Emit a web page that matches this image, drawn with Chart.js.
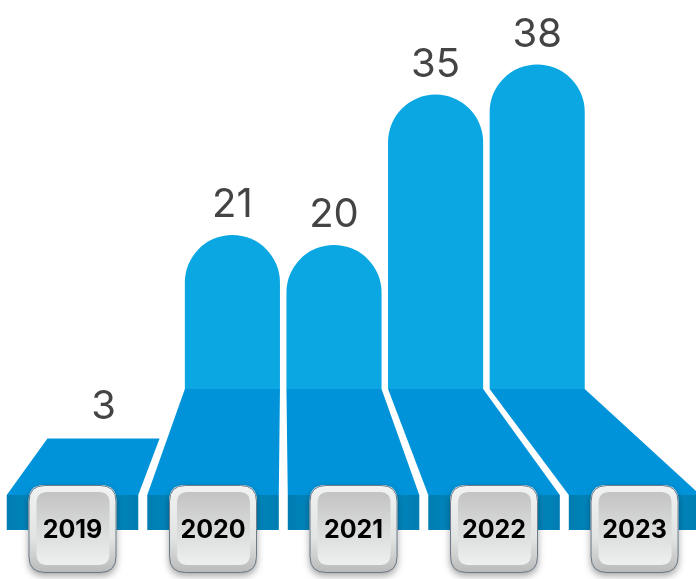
<!DOCTYPE html>
<html><head><meta charset="utf-8">
<script src="https://cdn.jsdelivr.net/npm/chart.js@4.4.1/dist/chart.umd.min.js"></script>
<style>html,body{margin:0;padding:0;background:#fff;overflow:hidden}#wrap{width:696px;height:579px;position:relative}</style>
</head><body><div id="wrap"><canvas id="c"></canvas></div>
<script>
const years = ['2019', '2020', '2021', '2022', '2023'];
const values = [3, 21, 20, 35, 38];
const yMin = 5.64;
const yMax = 41.44;

const BAR_COLOR = '#0ba7e2';
const FLOOR_COLOR = '#0093d9';
const FACE_COLOR = '#0084bb';
const VX = 283, K = 1.383, FLOOR_H = 106, FACE_H = 35, BTN = 88;

function rr(ctx, x, y, w, h, r) {
  ctx.beginPath();
  ctx.moveTo(x + r, y);
  ctx.lineTo(x + w - r, y);
  ctx.quadraticCurveTo(x + w, y, x + w, y + r);
  ctx.lineTo(x + w, y + h - r);
  ctx.quadraticCurveTo(x + w, y + h, x + w - r, y + h);
  ctx.lineTo(x + r, y + h);
  ctx.quadraticCurveTo(x, y + h, x, y + h - r);
  ctx.lineTo(x, y + r);
  ctx.quadraticCurveTo(x, y, x + r, y);
  ctx.closePath();
}

function geom(chart) {
  const area = chart.chartArea;
  const meta = chart.getDatasetMeta(0);
  const y0 = area.bottom, y1 = y0 + FLOOR_H, y2 = y1 + FACE_H;
  const proj = x => VX + (x - VX) * K;
  return meta.data.map((bar, i) => {
    const p = bar.getProps(['x', 'y', 'width'], true);
    const L = p.x - p.width / 2, R = p.x + p.width / 2;
    const bL = proj(L), bR = proj(R);
    const frac = Math.min(values[i] / yMin, 1);
    const yt = y1 - frac * FLOOR_H;
    const t = (yt - y0) / FLOOR_H;
    const tL = L + (bL - L) * t, tR = R + (bR - R) * t;
    return {x: p.x, y: p.y, L, R, bL, bR, yt, tL, tR, y0, y1, y2, below: values[i] < yMin};
  });
}

const infra = {
  id: 'infra',
  beforeDatasetsDraw(chart) {
    const ctx = chart.ctx;
    ctx.save();
    geom(chart).forEach(g => {
      ctx.fillStyle = FLOOR_COLOR;
      ctx.beginPath();
      ctx.moveTo(g.tL, g.yt);
      ctx.lineTo(g.tR, g.yt);
      ctx.lineTo(g.bR, g.y1);
      ctx.lineTo(g.bL, g.y1);
      ctx.closePath();
      ctx.fill();
      const gr = ctx.createLinearGradient(g.bL, 0, g.bR, 0);
      gr.addColorStop(0, '#007db2');
      gr.addColorStop(0.15, FACE_COLOR);
      gr.addColorStop(0.85, FACE_COLOR);
      gr.addColorStop(1, '#007db2');
      ctx.fillStyle = gr;
      ctx.fillRect(g.bL, g.y1, g.bR - g.bL, FACE_H);
    });
    ctx.restore();
  },
  afterDatasetsDraw(chart) {
    const ctx = chart.ctx;
    ctx.save();
    geom(chart).forEach((g, i) => {
      ctx.fillStyle = '#444444';
      ctx.font = '400 40px Inter';
      ctx.textAlign = 'center';
      ctx.textBaseline = 'middle';
      if (g.below) ctx.fillText(String(values[i]), (g.tL + g.tR) / 2, g.yt - 32);
      else ctx.fillText(String(values[i]), g.x, g.y - 30);
      const cx = (g.bL + g.bR) / 2;
      const bx = cx - BTN / 2, by = g.y1 - 10;
      ctx.save();
      ctx.shadowColor = 'rgba(0,0,0,0.35)';
      ctx.shadowBlur = 7;
      ctx.shadowOffsetY = 3;
      const og = ctx.createLinearGradient(0, by, 0, by + BTN);
      og.addColorStop(0, '#f1f3f3');
      og.addColorStop(0.6, '#e2e4e4');
      og.addColorStop(1, '#b9b9b9');
      ctx.fillStyle = og;
      rr(ctx, bx, by, BTN, BTN, 16);
      ctx.fill();
      ctx.restore();
      ctx.strokeStyle = '#6a7888';
      ctx.lineWidth = 1;
      rr(ctx, bx + 0.5, by + 0.5, BTN - 1, BTN - 1, 16);
      ctx.stroke();
      const ig = ctx.createLinearGradient(0, by + 7, 0, by + BTN - 8);
      ig.addColorStop(0, '#c3c3c3');
      ig.addColorStop(1, '#eef0f0');
      ctx.fillStyle = ig;
      rr(ctx, bx + 8, by + 7, BTN - 15, BTN - 15, 11);
      ctx.fill();
      ctx.fillStyle = '#000';
      ctx.font = '700 25px Inter';
      ctx.fillText(years[i], cx, by + BTN / 2 + 1);
    });
    ctx.restore();
  }
};

new Chart(document.getElementById('c'), {
  type: 'bar',
  data: {
    labels: years,
    datasets: [{
      data: values,
      backgroundColor: c => (c.raw < yMin ? 'rgba(0,0,0,0)' : BAR_COLOR),
      borderWidth: 0,
      borderRadius: {topLeft: 48, topRight: 48, bottomLeft: 0, bottomRight: 0},
      borderSkipped: false,
      barPercentage: 0.936,
      categoryPercentage: 1
    }]
  },
  options: {
    responsive: true,
    maintainAspectRatio: false,
    animation: false,
    layout: {padding: {left: 80, right: 108, top: 30, bottom: 190}},
    plugins: {legend: {display: false}, tooltip: {enabled: false}, title: {display: false}},
    scales: {
      x: {display: false, offset: true},
      y: {display: false, min: yMin, max: yMax}
    }
  },
  plugins: [infra]
});
</script>
</body></html>
